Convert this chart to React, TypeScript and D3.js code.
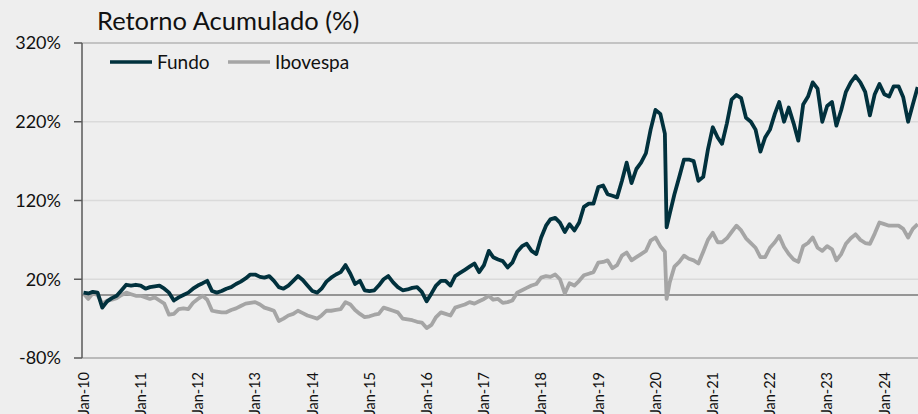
import React, { useEffect } from 'react';
import * as d3 from 'd3';

const W = 918;
const H = 414;

// Monthly observations, Jan-2010 .. Aug-2024 (first of each month)
const months = d3.timeMonth.range(new Date(2010, 0, 1), new Date(2024, 8, 1));

const fundoMonthly = [
  3, 2, 4, 3, -16, -8, -4, -1, 6, 13, 12, 13,
  12, 8, 10, 11, 12, 8, 3, -7, -3, 0, 3, 8,
  12, 15, 18, 5, 3, 5, 8, 10, 14, 17, 21, 26,
  26, 23, 22, 24, 18, 10, 8, 12, 18, 24, 19, 12,
  5, 3, 8, 17, 22, 26, 29, 38, 27, 14, 18, 6,
  5, 6, 12, 20, 24, 16, 10, 6, 7, 9, 10, 4,
  -8, 2, 12, 18, 18, 12, 24, 28, 32, 36, 40, 29,
  38, 56, 48, 45, 43, 35, 41, 55, 62, 65, 56, 52,
  73, 88, 96, 98, 92, 80, 90, 82, 92, 112, 116, 116,
  137, 139, 128, 126, 124, 145, 168, 142, 160, 168, 180, 210,
  235, 230, 205, 103, 128, 150, 172, 172, 170, 145, 150, 185,
  213, 200, 192, 218, 248, 254, 250, 225, 220, 210, 182, 200,
  210, 230, 245, 220, 238, 218, 196, 242, 252, 270, 262, 220,
  240, 245, 215, 235, 258, 270, 278, 270, 258, 228, 255, 268,
  255, 252, 265, 265, 251, 220, 242, 264,
];

const ibovMonthly = [
  2, -5, 2, 0, -11, -7, -6, -4, 0, 3, 1, -1,
  -1, -3, -5, -3, -7, -11, -25, -24, -18, -17, -18, -10,
  -5, -1, -6, -20, -21, -22, -22, -19, -17, -14, -11, -10,
  -9, -12, -16, -18, -20, -33, -30, -26, -24, -20, -23, -26,
  -28, -30, -26, -20, -20, -19, -18, -9, -12, -19, -24, -28,
  -27, -25, -24, -16, -18, -20, -22, -30, -31, -32, -34, -35,
  -42, -38, -28, -22, -24, -26, -16, -14, -12, -9, -11, -8,
  -5, -1, -6, -5, -10, -9, -7, 3, 6, 9, 12, 14,
  22, 24, 23, 26, 20, 2, 15, 12, 18, 25, 27, 29,
  41, 42, 44, 34, 38, 50, 54, 44, 48, 52, 56, 69,
  73, 62, 55, 16, 36, 42, 50, 46, 44, 40, 55, 70,
  79, 67, 67, 72, 80, 88, 82, 72, 66, 60, 48, 48,
  60, 67, 75, 61, 52, 45, 42, 62, 66, 73, 60, 56,
  62, 58, 44, 52, 65, 72, 77, 70, 66, 65, 78, 92,
  90, 88, 88, 88, 84, 73, 84, 90,
];

// March-2020 trough (between monthly observations)
const crashDate = new Date(2020, 2, 12);
const fundoCrash = 86;
const ibovCrash = -5;

const yTicks = [-80, 20, 120, 220, 320];
const gridValues = [20, 120, 220];
const xTickYears = d3.range(2010, 2025);

type Pt = { d: Date; v: number };

function buildSeries(vals: number[], crashV: number): Pt[] {
  const pts: Pt[] = months.map((d, i) => ({ d, v: vals[i] }));
  pts.push({ d: crashDate, v: crashV });
  pts.sort((a, b) => +a.d - +b.d);
  return pts;
}

const fundo = buildSeries(fundoMonthly, fundoCrash);
const ibov = buildSeries(ibovMonthly, ibovCrash);

const FONT = 'Lato, "Open Sans", sans-serif';
const FUNDO_COLOR = '#01313d';
const IBOV_COLOR = '#a5a5a5';

export default function App() {
  useEffect(() => {
    document.body.style.margin = '0';
    document.body.style.background = '#eeeeee';
  }, []);

  const x = d3
    .scaleTime()
    .domain([new Date(2010, 0, 1), new Date(2024, 0, 1)])
    .range([83.5, 884.3]);
  const y = d3.scaleLinear().domain([-80, 320]).range([358, 43]);

  const line = d3
    .line<Pt>()
    .x((p) => x(p.d))
    .y((p) => y(p.v));

  const axisX = 82;

  return (
    <svg
      width={W}
      height={H}
      style={{ position: 'fixed', left: 0, top: 0, background: '#eeeeee' }}
      fontFamily={FONT}
    >
      <rect x={0} y={0} width={W} height={H} fill="#eeeeee" />
      {/* gridlines */}
      {gridValues.map((v) => (
        <line key={v} x1={axisX} x2={W} y1={y(v)} y2={y(v)} stroke="#dadada" strokeWidth={1.5} />
      ))}
      <line x1={axisX} x2={W} y1={y(320)} y2={y(320)} stroke="#b4b4b4" strokeWidth={1.5} />
      <line x1={axisX} x2={W} y1={y(-80)} y2={y(-80)} stroke="#a8a8a8" strokeWidth={1.5} />
      <line x1={axisX} x2={W} y1={y(0)} y2={y(0)} stroke="#3c3c3c" strokeWidth={1.2} />

      {/* series */}
      <path d={line(ibov) || ''} fill="none" stroke={IBOV_COLOR} strokeWidth={3.8} strokeLinejoin="round" />
      <path d={line(fundo) || ''} fill="none" stroke={FUNDO_COLOR} strokeWidth={3.8} strokeLinejoin="round" />

      {/* y axis */}
      <line x1={axisX} x2={axisX} y1={y(320)} y2={y(-80)} stroke="#595959" strokeWidth={1.5} />
      {yTicks.map((v) => (
        <g key={v}>
          <line x1={axisX - 8} x2={axisX} y1={y(v)} y2={y(v)} stroke="#595959" strokeWidth={1.5} />
          <text x={61} y={y(v)} dy="0.36em" textAnchor="end" fontSize={18} fill="#111">
            {v}%
          </text>
        </g>
      ))}

      {/* x labels */}
      {xTickYears.map((yr) => {
        const px = x(new Date(yr, 0, 1));
        return (
          <text
            key={yr}
            transform={`translate(${px},372) rotate(-90)`}
            dy="0.36em"
            textAnchor="end"
            fontSize={14.5}
            fill="#111"
          >
            {`Jan-${String(yr).slice(2)}`}
          </text>
        );
      })}

      {/* title */}
      <text x={97} y={30} fontSize={25.5} fill="#111">
        Retorno Acumulado (%)
      </text>

      {/* legend */}
      <line x1={110} x2={152} y1={62} y2={62} stroke={FUNDO_COLOR} strokeWidth={3.5} />
      <text x={157} y={62} dy="0.36em" fontSize={19} fill="#111">
        Fundo
      </text>
      <line x1={228} x2={270} y1={62} y2={62} stroke={IBOV_COLOR} strokeWidth={3.5} />
      <text x={275} y={62} dy="0.36em" fontSize={19} fill="#111">
        Ibovespa
      </text>
    </svg>
  );
}
